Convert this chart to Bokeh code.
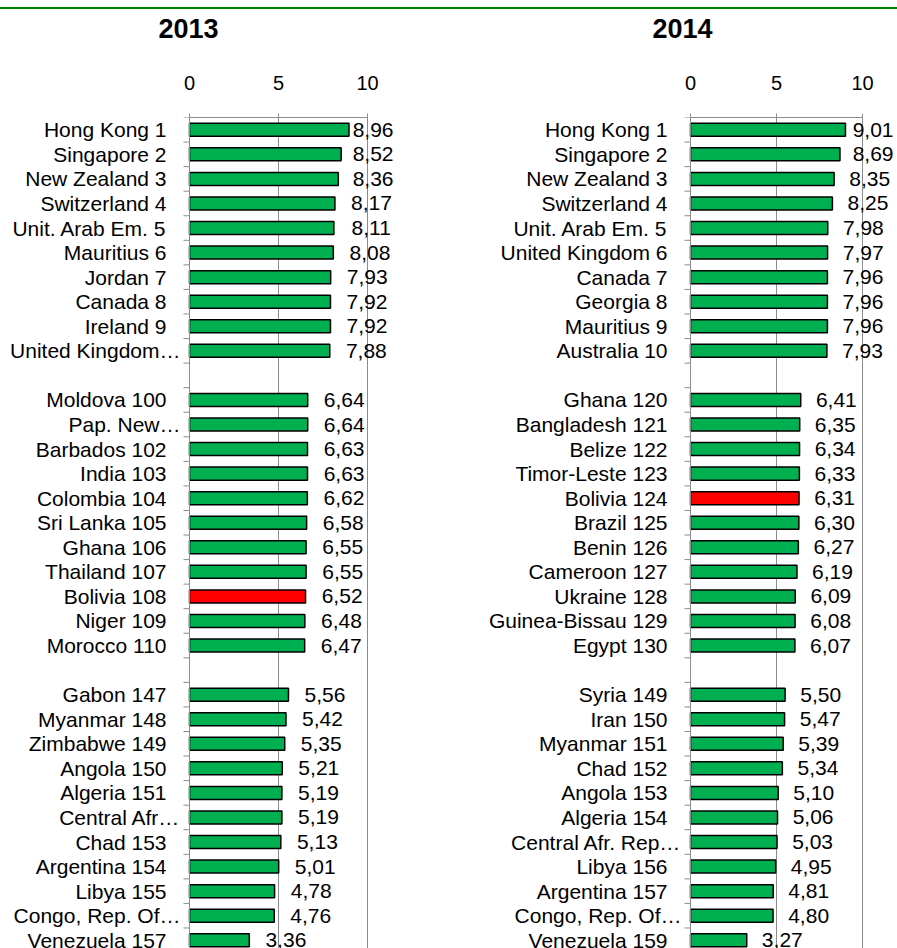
import numpy as np
from bokeh.plotting import figure
from bokeh.layouts import column, row
from bokeh.models import Range1d, FixedTicker, ColumnDataSource, Div, Span
from bokeh.core.properties import value
from bokeh.embed import file_html
from bokeh.resources import INLINE

# ---------------- data ----------------
years = ["2013", "2014"]

g1_2013 = ["Hong Kong 1", "Singapore 2", "New Zealand 3", "Switzerland 4", "Unit. Arab Em. 5",
           "Mauritius 6", "Jordan 7", "Canada 8", "Ireland 9", "United Kingdom\u2026"]
v1_2013 = [8.96, 8.52, 8.36, 8.17, 8.11, 8.08, 7.93, 7.92, 7.92, 7.88]
g2_2013 = ["Moldova 100", "Pap. New\u2026", "Barbados 102", "India 103", "Colombia 104",
           "Sri Lanka 105", "Ghana 106", "Thailand 107", "Bolivia 108", "Niger 109", "Morocco 110"]
v2_2013 = [6.64, 6.64, 6.63, 6.63, 6.62, 6.58, 6.55, 6.55, 6.52, 6.48, 6.47]
g3_2013 = ["Gabon 147", "Myanmar 148", "Zimbabwe 149", "Angola 150", "Algeria 151",
           "Central Afr\u2026", "Chad 153", "Argentina 154", "Libya 155", "Congo, Rep. Of\u2026",
           "Venezuela 157"]
v3_2013 = [5.56, 5.42, 5.35, 5.21, 5.19, 5.19, 5.13, 5.01, 4.78, 4.76, 3.36]

g1_2014 = ["Hong Kong 1", "Singapore 2", "New Zealand 3", "Switzerland 4", "Unit. Arab Em. 5",
           "United Kingdom 6", "Canada 7", "Georgia 8", "Mauritius 9", "Australia 10"]
v1_2014 = [9.01, 8.69, 8.35, 8.25, 7.98, 7.97, 7.96, 7.96, 7.96, 7.93]
g2_2014 = ["Ghana 120", "Bangladesh 121", "Belize 122", "Timor-Leste 123", "Bolivia 124",
           "Brazil 125", "Benin 126", "Cameroon 127", "Ukraine 128", "Guinea-Bissau 129", "Egypt 130"]
v2_2014 = [6.41, 6.35, 6.34, 6.33, 6.31, 6.30, 6.27, 6.19, 6.09, 6.08, 6.07]
g3_2014 = ["Syria 149", "Iran 150", "Myanmar 151", "Chad 152", "Angola 153", "Algeria 154",
           "Central Afr. Rep\u2026", "Libya 156", "Argentina 157", "Congo, Rep. Of\u2026", "Venezuela 159"]
v3_2014 = [5.50, 5.47, 5.39, 5.34, 5.10, 5.06, 5.03, 4.95, 4.81, 4.80, 3.27]

x_ticks = [0, 5, 10]
highlight = "Bolivia"

FONT = "Liberation Sans"
GREEN = "#00B050"
RED = "#FF0000"
GRID = "#8C8C8C"

ROW_PX = 24.56
HEADER_H = 40
TOP = 68
HEIGHT = 899


def build(groups, width, zero_px, border_right, px_per_unit, label_off, cap_px):
    names, vals, pos = [], [], []
    r = 0
    for gi, (gn, gv) in enumerate(groups):
        if gi > 0:
            r += 1  # blank separator row
        for n, v in zip(gn, gv):
            names.append(n)
            vals.append(v)
            pos.append(r)
            r += 1
    n_rows = r
    frame_h = HEIGHT - TOP
    frame_w = width - border_right
    xmin = -zero_px / px_per_unit
    xmax = xmin + frame_w / px_per_unit
    ybottom = -0.5 + frame_h / ROW_PX

    p = figure(width=width, height=HEIGHT, output_backend="svg", toolbar_location=None,
               x_range=Range1d(xmin, xmax), y_range=Range1d(ybottom, -0.5),
               x_axis_location="above", y_axis_location=None,
               min_border_left=0, min_border_right=border_right,
               min_border_top=TOP, min_border_bottom=0)
    p.outline_line_color = None
    p.background_fill_color = "white"

    # value axis grid (5, 10) and the category axis line at 0
    p.xgrid.ticker = FixedTicker(ticks=[5, 10])
    p.xgrid.grid_line_color = GRID
    p.ygrid.grid_line_color = None
    p.add_layout(Span(location=0, dimension="height", line_color=GRID, line_width=1))

    # row-boundary ticks on the category axis
    bounds = [k - 0.5 for k in range(n_rows + 1)]
    p.segment(x0=[-6 / px_per_unit] * len(bounds), x1=[0] * len(bounds),
              y0=bounds, y1=bounds, line_color=GRID, line_width=1)

    colors = [RED if n.startswith(highlight) else GREEN for n in names]
    vals_a = np.array(vals)
    cap = (cap_px - label_off) / px_per_unit
    src = ColumnDataSource(dict(y=pos, v=vals, c=colors,
                                lx=np.minimum(vals_a, cap),
                                t=[f"{v:.2f}".replace(".", ",") for v in vals],
                                name=names,
                                zero=[0] * len(pos),
                                xo=[-9 if n.endswith("\u2026") else -23 for n in names]))
    p.hbar(y="y", left=0, right="v", height=0.53, fill_color="c",
           line_color="black", line_width=1.5, source=src)
    p.text(x="lx", y="y", text="t", source=src, x_offset=label_off,
           text_align="right", text_baseline="middle", text_font=value(FONT),
           text_font_size="21px", text_color="black")
    # category labels
    p.text(x="zero", y="y", text="name", x_offset="xo", source=src,
           text_align="right", text_baseline="middle", text_font=value(FONT),
           text_font_size="21px", text_color="black")

    # x axis (top)
    xa = p.xaxis[0]
    xa.ticker = FixedTicker(ticks=x_ticks)
    xa.bounds = (0, 10)
    xa.axis_line_color = GRID
    xa.major_tick_line_color = GRID
    xa.major_tick_in = 4
    xa.major_tick_out = 4
    xa.minor_tick_line_color = None
    xa.major_label_standoff = 24
    xa.major_label_text_font = FONT
    xa.major_label_text_font_size = "20px"
    xa.major_label_text_color = "black"
    return p


p1 = build([(g1_2013, v1_2013), (g2_2013, v2_2013), (g3_2013, v3_2013)],
           width=448, zero_px=189, border_right=48, px_per_unit=17.8,
           label_off=57, cap_px=204)
p2 = build([(g1_2014, v1_2014), (g2_2014, v2_2014), (g3_2014, v3_2014)],
           width=449, zero_px=242, border_right=0, px_per_unit=17.2,
           label_off=56, cap_px=203)

# header with the two panel titles (pixel-like layout space)
header = figure(width=897, height=HEADER_H, output_backend="svg", toolbar_location=None,
                x_range=Range1d(0, 897), y_range=Range1d(HEADER_H, 0),
                x_axis_location=None, y_axis_location=None, min_border=0,
                min_border_left=0, min_border_right=0, min_border_top=0, min_border_bottom=0)
header.outline_line_color = None
header.grid.visible = False
header.text(x=[188, 682], y=[19, 19], text=years, text_align="center",
            text_baseline="middle", text_font=value(FONT), text_font_size="27px",
            text_font_style="bold", text_color="black")

line = Div(text="", width=897, height=2, margin=(7, 0, 0, 0),
           styles={"background-color": "#008000"})

layout = column(line, header, row(p1, p2))
open("out.html", "w").write(file_html(layout, INLINE))
